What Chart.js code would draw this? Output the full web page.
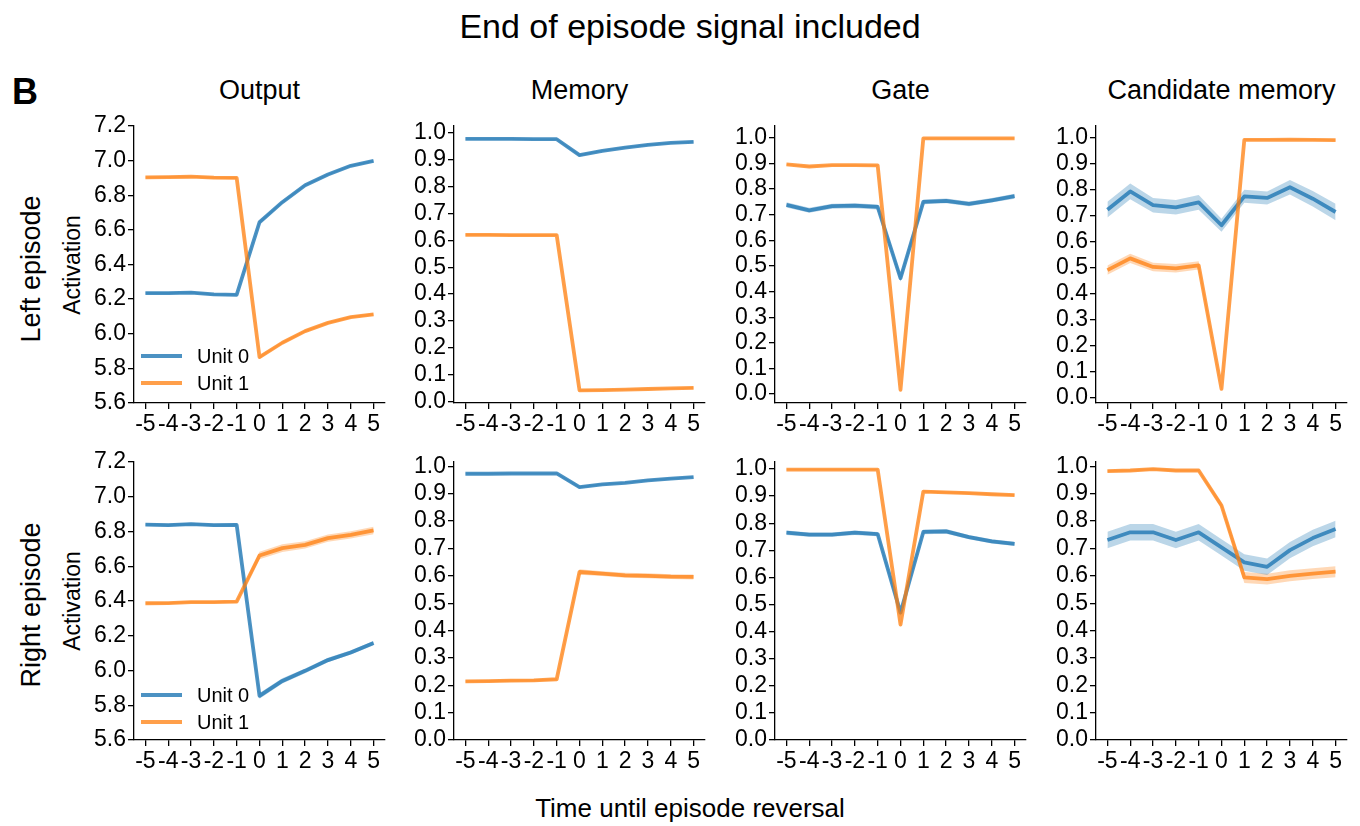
<!DOCTYPE html>
<html><head><meta charset="utf-8">
<script src="https://cdn.jsdelivr.net/npm/chart.js@4.4.1/dist/chart.umd.min.js"></script>
<style>
body{margin:0;background:#fff;width:1360px;height:826px;overflow:hidden;position:relative;font-family:"Liberation Sans",Arial,Helvetica,sans-serif;color:#000}
.t{position:absolute;white-space:nowrap;line-height:1}
.c{transform:translateX(-50%)}
.r{transform:translate(-50%,-50%) rotate(-90deg)}
canvas{position:absolute}
</style></head><body>
<div class="t c" style="left:690px;top:9px;font-size:34px">End of episode signal included</div>
<div class="t" style="left:12px;top:74px;font-size:36px;font-weight:bold">B</div>
<div class="t c" style="left:690px;top:795px;font-size:26px">Time until episode reversal</div>
<div id="texts"></div>
<script>
// ---------- data ----------
const timeSteps = [-5,-4,-3,-2,-1,0,1,2,3,4,5];
const xTickLabels = [-5,-4,-3,-2,-1,0,1,2,3,4,5];
const outputTicks = [5.6,5.8,6.0,6.2,6.4,6.6,6.8,7.0,7.2];
const unitTicks = [0.0,0.1,0.2,0.3,0.4,0.5,0.6,0.7,0.8,0.9,1.0];
const panelTitles = ['Output','Memory','Gate','Candidate memory'];
const rowTitles = ['Left episode','Right episode'];
const seriesNames = ['Unit 0','Unit 1'];

// Left episode
const leftOutput0 = [6.235,6.235,6.238,6.227,6.225,6.644,6.760,6.858,6.920,6.970,6.998];
const leftOutput1 = [6.903,6.905,6.907,6.902,6.900,5.865,5.948,6.015,6.063,6.096,6.112];
const leftOutputSem0 = [0.006,0.006,0.006,0.006,0.006,0.008,0.007,0.006,0.006,0.006,0.006];
const leftOutputSem1 = [0.006,0.006,0.006,0.006,0.006,0.008,0.007,0.006,0.006,0.006,0.006];
const leftMemory0 = [0.976,0.976,0.976,0.975,0.975,0.916,0.932,0.944,0.954,0.961,0.965];
const leftMemory1 = [0.620,0.620,0.619,0.619,0.619,0.043,0.044,0.046,0.048,0.050,0.052];
const leftMemorySem0 = [0.003,0.003,0.003,0.003,0.003,0.004,0.003,0.003,0.003,0.003,0.003];
const leftMemorySem1 = [0.003,0.003,0.003,0.003,0.003,0.003,0.003,0.003,0.003,0.003,0.003];
const leftGate0 = [0.738,0.717,0.733,0.735,0.730,0.452,0.750,0.754,0.742,0.756,0.772];
const leftGate1 = [0.896,0.888,0.893,0.893,0.892,0.016,0.998,0.998,0.998,0.998,0.998];
const leftGateSem0 = [0.010,0.010,0.010,0.010,0.010,0.014,0.009,0.009,0.009,0.009,0.010];
const leftGateSem1 = [0.003,0.003,0.003,0.003,0.003,0.005,0.002,0.002,0.002,0.002,0.002];
const leftCand0 = [0.722,0.792,0.739,0.731,0.750,0.662,0.773,0.767,0.808,0.764,0.713];
const leftCand1 = [0.490,0.535,0.502,0.497,0.508,0.034,0.990,0.990,0.991,0.990,0.989];
const leftCandSem0 = [0.030,0.030,0.028,0.028,0.028,0.025,0.025,0.025,0.028,0.030,0.032];
const leftCandSem1 = [0.018,0.018,0.016,0.016,0.016,0.006,0.003,0.003,0.003,0.003,0.003];

// Right episode
const rightOutput0 = [6.840,6.837,6.842,6.837,6.838,5.854,5.940,5.998,6.060,6.104,6.158];
const rightOutput1 = [6.387,6.388,6.394,6.394,6.396,6.662,6.704,6.723,6.762,6.781,6.806];
const rightOutputSem0 = [0.008,0.008,0.008,0.008,0.008,0.016,0.015,0.014,0.013,0.012,0.012];
const rightOutputSem1 = [0.006,0.006,0.006,0.006,0.006,0.022,0.022,0.021,0.021,0.021,0.022];
const rightMemory0 = [0.973,0.973,0.974,0.974,0.974,0.924,0.934,0.940,0.949,0.955,0.961];
const rightMemory1 = [0.214,0.215,0.217,0.218,0.222,0.614,0.608,0.602,0.600,0.597,0.596];
const rightMemorySem0 = [0.003,0.003,0.003,0.003,0.003,0.004,0.003,0.003,0.003,0.003,0.003];
const rightMemorySem1 = [0.004,0.004,0.004,0.004,0.004,0.010,0.009,0.009,0.009,0.009,0.009];
const rightGate0 = [0.765,0.758,0.758,0.765,0.760,0.470,0.768,0.770,0.749,0.733,0.724];
const rightGate1 = [0.998,0.998,0.998,0.998,0.998,0.426,0.917,0.914,0.911,0.907,0.904];
const rightGateSem0 = [0.008,0.008,0.008,0.008,0.008,0.012,0.009,0.009,0.008,0.008,0.008];
const rightGateSem1 = [0.002,0.002,0.002,0.002,0.002,0.006,0.004,0.004,0.004,0.004,0.004];
const rightCand0 = [0.731,0.759,0.759,0.731,0.759,0.704,0.649,0.633,0.694,0.738,0.771];
const rightCand1 = [0.983,0.985,0.990,0.985,0.985,0.857,0.594,0.588,0.600,0.608,0.615];
const rightCandSem0 = [0.030,0.030,0.030,0.030,0.030,0.030,0.030,0.030,0.030,0.030,0.030];
const rightCandSem1 = [0.004,0.004,0.004,0.004,0.004,0.010,0.020,0.020,0.020,0.020,0.020];

// axis limits
const yLimits = [
  [[5.6,7.2],[-0.004,1.024],[-0.035,1.046],[-0.02,1.043]],
  [[5.6,7.2],[0,1.016],[0,1.026],[0,1.016]]
];

// ---------- layout ----------
const FONT = '"Liberation Sans", Arial, Helvetica, sans-serif';
const COLORS = ['rgba(31,119,180,0.8)','rgba(255,127,14,0.75)'];
const BANDS = ['rgba(31,119,180,0.3)','rgba(255,127,14,0.3)'];
const colLeft = [134,454,775,1096];
const rowTop = [126,462];
const rowH = [277,278];
const PW = 251, YW = 72, PT = 16, PR = 16, XH = 50;
const TICK_SIZE = 23;

const panels = [
  [[leftOutput0,leftOutput1,leftOutputSem0,leftOutputSem1],[leftMemory0,leftMemory1,leftMemorySem0,leftMemorySem1],[leftGate0,leftGate1,leftGateSem0,leftGateSem1],[leftCand0,leftCand1,leftCandSem0,leftCandSem1]],
  [[rightOutput0,rightOutput1,rightOutputSem0,rightOutputSem1],[rightMemory0,rightMemory1,rightMemorySem0,rightMemorySem1],[rightGate0,rightGate1,rightGateSem0,rightGateSem1],[rightCand0,rightCand1,rightCandSem0,rightCandSem1]]
];

const legendPlugin = {
  id:'unitLegend',
  afterDatasetsDraw(chart, args, opts){
    if(!opts || !opts.show) return;
    const ctx = chart.ctx, a = chart.chartArea;
    const lines = chart.data.datasets.filter(d => d.isMain);
    lines.sort((p,q)=>p.unitIndex-q.unitIndex);
    ctx.save();
    lines.forEach((d,i)=>{
      const y = a.bottom - opts.offsets[i];
      ctx.strokeStyle = d.borderColor; ctx.lineWidth = 3.8; ctx.lineCap='butt';
      ctx.beginPath(); ctx.moveTo(a.left+7,y); ctx.lineTo(a.left+48,y); ctx.stroke();
      ctx.fillStyle = '#000'; ctx.font = '20px ' + FONT; ctx.textBaseline = 'middle'; ctx.textAlign='left';
      ctx.fillText(d.label, a.left+63, y+1);
    });
    ctx.restore();
  }
};

function pts(vals, errs, sign){
  return timeSteps.map((t,i)=>({x:t, y: vals[i] + sign*(errs ? errs[i] : 0)}));
}

const texts = document.getElementById('texts');
function addText(html){ texts.insertAdjacentHTML('beforeend', html); }

for(let r=0;r<2;r++){
  addText(`<div class="t r" style="left:31px;top:${rowTop[r]+rowH[r]/2+4}px;font-size:27px">${rowTitles[r]}</div>`);
  addText(`<div class="t r" style="left:72px;top:${rowTop[r]+rowH[r]/2}px;font-size:23px">Activation</div>`);
  for(let c=0;c<4;c++){
    if(r===0) addText(`<div class="t c" style="left:${colLeft[c]+PW/2}px;top:77px;font-size:27px">${panelTitles[c]}</div>`);
    const [v0,v1,e0,e1] = panels[r][c];
    const cv = document.createElement('canvas');
    const w = YW+PW+PR, h = PT+rowH[r]+XH;
    cv.width = w; cv.height = h;
    cv.style.left = (colLeft[c]-YW)+'px'; cv.style.top = (rowTop[r]-PT)+'px';
    cv.style.width = w+'px'; cv.style.height = h+'px';
    document.body.appendChild(cv);
    const yTicks = c===0 ? outputTicks : unitTicks;
    const vals = [v0,v1], errs=[e0,e1];
    const datasets = [];
    for(let u=0;u<2;u++){
      datasets.push({label:'lo'+u, data:pts(vals[u],errs[u],-1), borderWidth:0, pointRadius:0, fill:false, order:5+u});
      datasets.push({label:'hi'+u, data:pts(vals[u],errs[u],1), borderWidth:0, pointRadius:0, fill:'-1', backgroundColor:BANDS[u], order:5+u});
    }
    datasets.push({label:seriesNames[0], isMain:true, unitIndex:0, data:pts(v0,null,0), borderColor:COLORS[0], borderWidth:3.8, pointRadius:0, fill:false, tension:0, order:2, borderJoinStyle:'round'});
    datasets.push({label:seriesNames[1], isMain:true, unitIndex:1, data:pts(v1,null,0), borderColor:COLORS[1], borderWidth:3.8, pointRadius:0, fill:false, tension:0, order:1, borderJoinStyle:'round'});
    const gridCfg = {drawOnChartArea:false, drawTicks:true, tickLength:6, color:'#000', lineWidth:1.3};
    new Chart(cv.getContext('2d'), {
      type:'line',
      data:{datasets},
      options:{
        responsive:false, animation:false, devicePixelRatio:1,
        layout:{padding:{left:0,top:PT,right:PR,bottom:0}},
        plugins:{legend:{display:false}, tooltip:{enabled:false}, unitLegend:{show:c===0, offsets: r===0?[47,20]:[45,18]}},
        scales:{
          x:{type:'linear', min:-5.5, max:5.5,
             afterFit(s){ s.height = XH; },
             afterBuildTicks(s){ s.ticks = xTickLabels.map(v=>({value:v})); },
             grid:gridCfg, border:{display:true,color:'#000',width:1.3},
             ticks:{font:{family:FONT,size:TICK_SIZE}, color:'#000', padding:2, maxRotation:0, minRotation:0, autoSkip:false, callback:v=>String(v)}},
          y:{type:'linear', min:yLimits[r][c][0], max:yLimits[r][c][1],
             afterFit(s){ s.width = YW; },
             afterBuildTicks(s){ s.ticks = yTicks.map(v=>({value:v})); },
             grid:gridCfg, border:{display:true,color:'#000',width:1.3},
             ticks:{font:{family:FONT,size:TICK_SIZE}, color:'#000', padding:2, autoSkip:false, callback:v=>Number(v).toFixed(1)}}
        }
      },
      plugins:[legendPlugin]
    });
  }
}
</script>
</body></html>
